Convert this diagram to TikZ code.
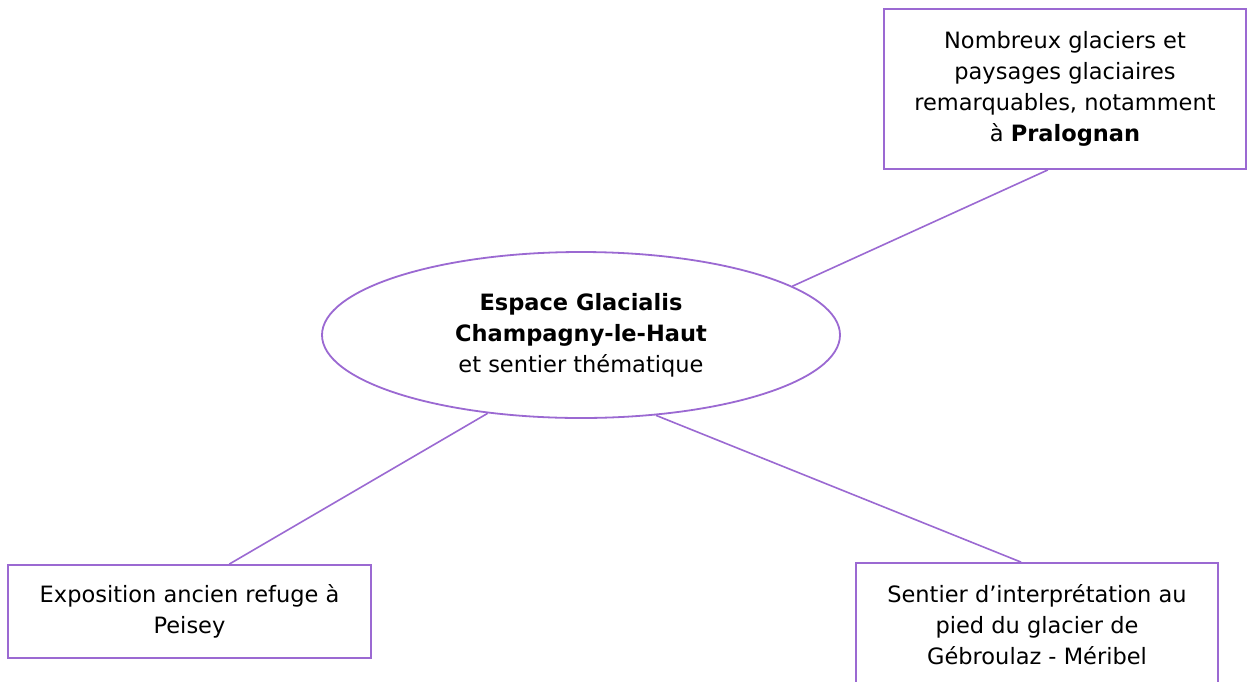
\documentclass[tikz,border=0pt]{standalone}
\usepackage{fontspec}
\setmainfont{DejaVu Sans}
\usetikzlibrary{shapes.geometric,calc}
\definecolor{lav}{RGB}{155,105,210}
\begin{document}
\begin{tikzpicture}[x=1pt,y=-1pt,
  every node/.style={font=\fontsize{22.5}{31}\selectfont, align=center, text=black},
  infobox/.style={draw=lav, line width=1.8pt, rectangle, inner sep=0pt},
  hub/.style={draw=lav, line width=1.8pt, ellipse, inner sep=0pt, minimum width=518, minimum height=166},
  link/.style={draw=lav, line width=1.6pt}]
\useasboundingbox[fill=white] (0,0) rectangle (1247,681);
\node[hub] (c) at (581,335) {\textbf{Espace Glacialis}\\\textbf{Champagny-le-Haut}\\et sentier thématique};
\node[infobox, minimum width=362, minimum height=160] (tr) at (1065,89) {Nombreux glaciers et\\paysages glaciaires\\remarquables, notamment\\à \textbf{Pralognan}};
\node[infobox, minimum width=363, minimum height=93] (bl) at (189.5,611.5) {Exposition ancien refuge à\\Peisey};
\node[infobox, minimum width=362, minimum height=123] (br) at (1037,624.5) {Sentier d’interprétation au\\pied du glacier de\\Gébroulaz - Méribel};
\coordinate (trend) at ($(tr.south west)!0.453!(tr.south east)$);
\coordinate (blend) at ($(bl.north west)!0.609!(bl.north east)$);
\coordinate (brend) at ($(br.north west)!0.456!(br.north east)$);
\draw[link] (c.13.7) -- (trend);
\draw[link] (c.220.3) -- (blend);
\draw[link] (c.313.9) -- (brend);
\end{tikzpicture}
\end{document}
